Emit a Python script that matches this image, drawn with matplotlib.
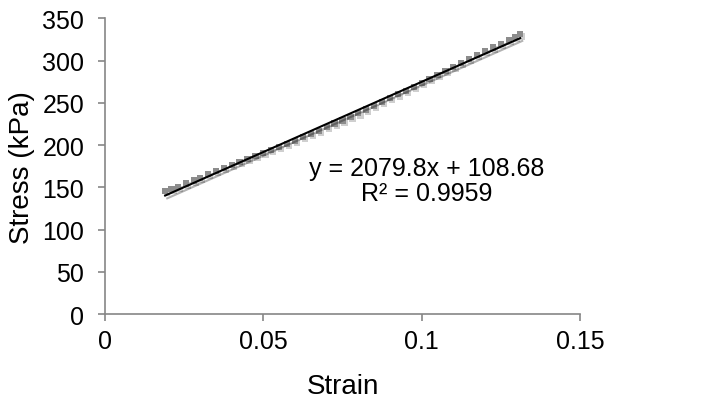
import matplotlib
matplotlib.use("Agg")
import matplotlib.pyplot as plt
import matplotlib.patheffects as pe
import numpy as np

plt.rcParams['font.family'] = ['Liberation Sans', 'DejaVu Sans']

# stress-strain readings
strain = [0.0190, 0.0210, 0.0230, 0.0255, 0.0280, 0.0300, 0.0325, 0.0350, 0.0375,
          0.0400, 0.0425, 0.0450, 0.0475, 0.0500, 0.0525, 0.0550, 0.0575, 0.0600,
          0.0625, 0.0650, 0.0675, 0.0700, 0.0725, 0.0750, 0.0775, 0.0800, 0.0825,
          0.0850, 0.0875, 0.0900, 0.0925, 0.0950, 0.0975, 0.1000, 0.1025, 0.1050,
          0.1075, 0.1100, 0.1125, 0.1150, 0.1175, 0.1200, 0.1225, 0.1250, 0.1275,
          0.1295, 0.1311]
stress = [145.5, 148.0, 150.5, 154.5, 158.0, 161.0, 165.5, 169.0, 172.5,
          176.0, 180.0, 183.5, 187.0, 191.0, 194.5, 198.0, 201.5, 205.0,
          209.5, 213.0, 217.0, 221.0, 225.5, 229.0, 233.5, 237.5, 242.0,
          246.5, 251.0, 255.5, 260.0, 264.0, 269.0, 273.5, 278.5, 283.0,
          288.0, 292.5, 297.5, 302.0, 306.5, 311.0, 315.5, 320.0, 324.5,
          328.0, 331.0]

eq_text = "y = 2079.8x + 108.68\nR² = 0.9959"

x = np.array(strain)
y = np.array(stress)
coef = np.polyfit(x, y, 1)
xf = np.array([x.min(), x.max()])

fig = plt.figure(figsize=(7.26, 4.02), dpi=100)
ax = fig.add_axes([0.1446, 0.2164, 0.6543, 0.7356])

ax.scatter(x, y, marker='s', s=20, color='#8c8c8c', linewidths=0, zorder=2,
           path_effects=[pe.withSimplePatchShadow(offset=(1.5, -1.5), shadow_rgbFace='#b0b0b0', alpha=0.6)])
ax.plot(xf, np.polyval(coef, xf), color='black', lw=1.5, zorder=3,
        path_effects=[pe.SimpleLineShadow(offset=(1.5, -2), alpha=0.3), pe.Normal()])

ax.text(0.1017, 158, eq_text, ha='center', va='center', fontsize=18, linespacing=1.1)

ax.set_xlim(0, 0.15)
ax.set_ylim(0, 350)
ax.set_xticks([0, 0.05, 0.1, 0.15])
ax.set_xticklabels(['0', '0.05', '0.1', '0.15'])
ax.set_yticks(range(0, 351, 50))

for side in ['top', 'right']:
    ax.spines[side].set_visible(False)
for side in ['left', 'bottom']:
    ax.spines[side].set_color('#868686')
    ax.spines[side].set_linewidth(1.2)
ax.tick_params(direction='out', length=5, width=1.2, color='#868686',
               labelsize=18)
ax.tick_params(axis='y', pad=10)
ax.tick_params(axis='x', pad=6)

ax.set_xlabel('Strain', fontsize=20, labelpad=14)
ax.set_ylabel('Stress (kPa)', fontsize=20, labelpad=5)

fig.savefig('out.png', dpi=100)
